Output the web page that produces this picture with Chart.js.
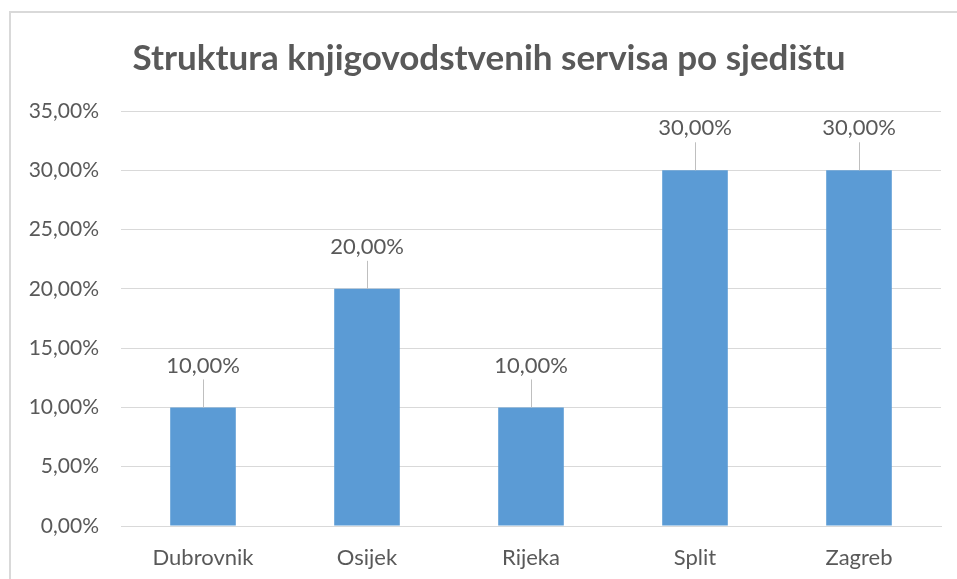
<!DOCTYPE html>
<html>
<head>
<meta charset="utf-8">
<script src="https://cdn.jsdelivr.net/npm/chart.js@4"></script>
<style>
  html, body { margin: 0; padding: 0; background: #fff; overflow: hidden; }
  #frame { position: absolute; left: 9px; top: 11px; width: 1000px; height: 700px;
           border-left: 2px solid #d9d9d9; border-top: 2px solid #d9d9d9; }
  #wrap { position: absolute; left: 0; top: 0; width: 957px; height: 579px; }
</style>
</head>
<body>
<div id="frame"></div>
<div id="wrap"><canvas id="struktura_chart" width="957" height="579"></canvas></div>
<script>
const cities = ['Dubrovnik', 'Osijek', 'Rijeka', 'Split', 'Zagreb'];
const shares = [10, 20, 10, 30, 30];
const chart_title = 'Struktura knjigovodstvenih servisa po sjedištu';

const textGray = '#595959';
const font_family = 'Lato, "Open Sans", sans-serif';

function pct(v) {
  return v.toFixed(2).replace('.', ',') + '%';
}

// labels above bars, with a short leader line like Excel does
const barLabels = {
  id: 'barLabels',
  afterLayout(chart) {
    // Excel centres the title a bit right of the canvas middle
    if (chart.titleBlock) chart.titleBlock.left += 27;
  },
  afterDatasetsDraw(chart) {
    const ctx = chart.ctx;
    const meta = chart.getDatasetMeta(0);
    ctx.save();
    ctx.font = '22px ' + font_family;
    ctx.textAlign = 'center';
    ctx.textBaseline = 'middle';
    meta.data.forEach(function(bar, i) {
      const labelY = bar.y - 42;
      ctx.strokeStyle = '#bfbfbf';
      ctx.lineWidth = 1;
      ctx.beginPath();
      ctx.moveTo(bar.x + 0.5, bar.y);
      ctx.lineTo(bar.x + 0.5, labelY + 14);
      ctx.stroke();
      ctx.fillStyle = textGray;
      ctx.fillText(pct(shares[i]), bar.x, labelY);
    });
    ctx.restore();
  }
};

new Chart(document.getElementById('struktura_chart'), {
  type: 'bar',
  data: {
    labels: cities,
    datasets: [{
      data: shares,
      backgroundColor: '#5b9bd5',
      barPercentage: 0.4,
      categoryPercentage: 1.0
    }]
  },
  options: {
    responsive: false,
    animation: false,
    layout: { padding: { left: 10, right: 16, top: 0, bottom: 0 } },
    plugins: {
      legend: { display: false },
      tooltip: { enabled: false },
      title: {
        display: true,
        text: chart_title,
        color: textGray,
        font: { family: font_family, size: 35, weight: 'bold' },
        padding: { top: 38, bottom: 31 }
      }
    },
    scales: {
      x: {
        grid: { display: false },
        border: { color: '#d9d9d9' },
        ticks: { color: textGray, font: { family: font_family, size: 22 }, padding: 11 },
        afterFit(scale) { scale.height = 53; }
      },
      y: {
        min: 0,
        max: 35,
        grid: { color: '#d9d9d9', drawTicks: false },
        border: { display: false },
        ticks: {
          stepSize: 5,
          color: textGray,
          padding: 22,
          font: { family: font_family, size: 21 },
          callback: function(v) { return pct(v); }
        },
        afterFit(scale) { scale.width = 111; }
      }
    }
  },
  plugins: [barLabels]
});
</script>
</body>
</html>
